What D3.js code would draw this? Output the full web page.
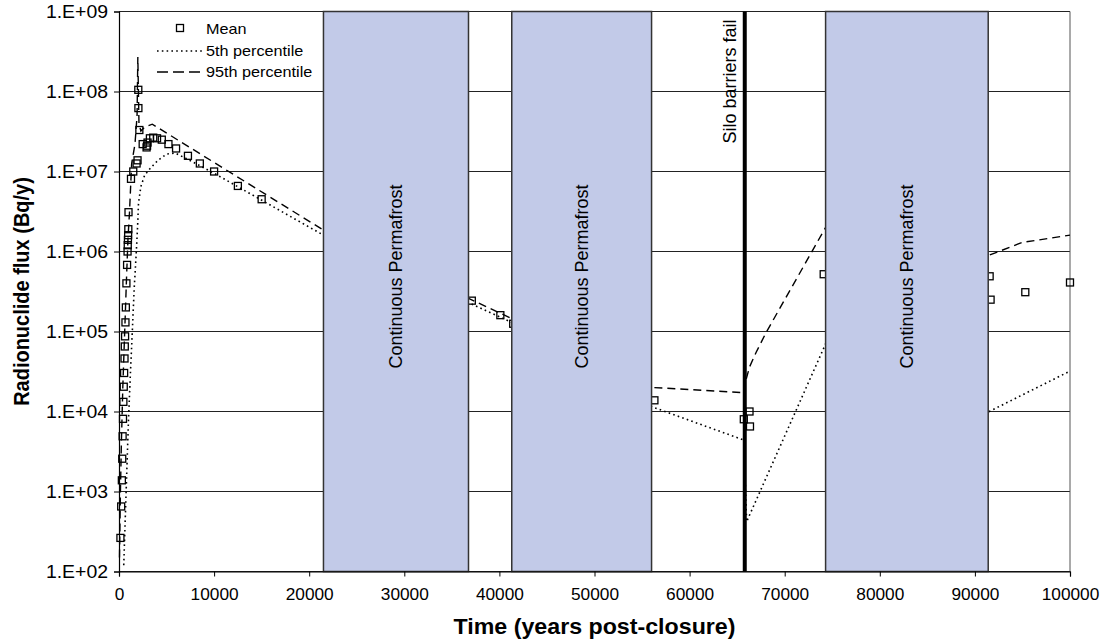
<!DOCTYPE html>
<html>
<head>
<meta charset="utf-8">
<script src="https://cdn.jsdelivr.net/npm/d3@7"></script>
<style>
  html, body { margin: 0; padding: 0; background: #fff; }
  svg { display: block; font-family: Arial, "Liberation Sans", sans-serif; }
</style>
</head>
<body>
<svg id="chart" width="1106" height="644"></svg>
<script>
// Mean radionuclide flux (Bq/y) against time after closure (years)
const meanTime = [150, 230, 300, 340, 380, 420, 460, 500, 540, 580, 610, 640, 680, 720, 780, 850,
  900, 920, 940, 960, 980, 1000, 1260, 1500, 1850, 1950, 2030, 2040, 2140, 2490, 2900, 2950, 3000,
  3250, 3600, 4000, 4500, 5200, 6000, 7250, 8500, 10000, 12500, 15000,
  37100, 40100, 41450, 56300, 65700, 66300, 66350, 74100, 91550, 91650, 95300, 100000];
const meanFlux = [263, 650, 1380, 2570, 4900, 8100, 13200, 20400, 30300, 46000, 65000, 87000, 1.3e5, 2.0e5, 4.0e5, 6.8e5,
  1.0e6, 1.2e6, 1.4e6, 1.6e6, 1.9e6, 3.1e6, 8.1e6, 1.0e7, 1.26e7, 1.38e7, 1.05e8, 6.2e7, 3.3e7, 2.2e7, 2.0e7, 2.1e7, 2.3e7,
  2.6e7, 2.65e7, 2.6e7, 2.5e7, 2.2e7, 1.94e7, 1.57e7, 1.26e7, 1.0e7, 6.6e6, 4.5e6,
  2.43e5, 1.6e5, 1.25e5, 1.38e4, 8.0e3, 1.0e4, 6.5e3, 5.2e5, 4.9e5, 2.5e5, 3.1e5, 4.1e5];

// 5th percentile
const p5Time = [500, 750, 1000, 1200, 1400, 1600, 1800, 1950, 2050, 2300, 2700, 3300, 4100, 5000, 5900, 7100,
  10000, 21500, 36750, 41300, 56000, 65700, 66000, 74300, 91500, 100000];
const p5Flux = [120, 1.0e3, 8.0e3, 3.0e4, 1.0e5, 3.5e5, 9.0e5, 2.0e6, 4.0e6, 6.5e6, 9.0e6, 1.1e7, 1.38e7, 1.65e7, 1.7e7, 1.45e7,
  9.5e6, 1.6e6, 2.3e5, 1.3e5, 1.15e4, 4.4e3, 420, 7.0e4, 1.0e4, 3.2e4];

// 95th percentile
const p95Time = [50, 150, 250, 400, 600, 800, 950, 1100, 1330, 1680, 1900, 1980, 2100, 2300, 2700, 3500,
  21500, 36750, 41300, 56000, 65750, 65900, 66300, 67000, 68000, 74300, 91500, 95000, 100000];
const p95Flux = [150, 1.0e3, 4.0e3, 2.0e4, 1.0e5, 5.0e5, 1.5e6, 3.0e6, 1.26e7, 2.2e7, 5.0e7, 2.7e8, 4.0e7, 3.2e7, 3.6e7, 3.9e7,
  1.85e6, 2.6e5, 1.45e5, 2.0e4, 1.72e4, 2.4e4, 3.6e4, 5.5e4, 9.5e4, 2.0e6, 9.0e5, 1.3e6, 1.6e6];

// Periods of continuous permafrost and the silo barrier failure
const permafrostStart = [21500, 41300, 74300];
const permafrostEnd = [36750, 56000, 91400];
const permafrostLabel = "Continuous Permafrost";
const siloFailTime = 65800;
const siloFailLabel = "Silo barriers fail";

const xTicks = [0, 10000, 20000, 30000, 40000, 50000, 60000, 70000, 80000, 90000, 100000];
const yTicks = [1e2, 1e3, 1e4, 1e5, 1e6, 1e7, 1e8, 1e9];
const yTickLabels = ["1.E+02", "1.E+03", "1.E+04", "1.E+05", "1.E+06", "1.E+07", "1.E+08", "1.E+09"];
const xTitle = "Time (years post-closure)";
const yTitle = "Radionuclide flux (Bq/y)";
const legendLabels = ["Mean", "5th percentile", "95th percentile"];

(function draw() {
  const svg = d3.select("#chart");
  const pl = 119, pr = 1070, pt = 11.5, pb = 571.5;
  const sx = 1.08; // horizontal text stretch

  const x = d3.scaleLinear().domain([0, 100000]).range([pl, pr]);
  const y = d3.scaleLog().domain([1e2, 1e9]).range([pb, pt]);

  // horizontal gridlines
  svg.append("g").selectAll("line").data(yTicks).join("line")
    .attr("x1", pl).attr("x2", pr)
    .attr("y1", d => y(d)).attr("y2", d => y(d))
    .attr("stroke", "#222").attr("stroke-width", 1);

  // right border of the plot area
  svg.append("line").attr("x1", pr).attr("x2", pr).attr("y1", pt).attr("y2", pb)
    .attr("stroke", "#555").attr("stroke-width", 1);

  const line = d3.line().x(d => x(d[0])).y(d => y(d[1]));
  const p5 = p5Time.map((t, i) => [t, p5Flux[i]]);
  const p95 = p95Time.map((t, i) => [t, p95Flux[i]]);

  svg.append("path").datum(p5).attr("d", line)
    .attr("fill", "none").attr("stroke", "#000").attr("stroke-width", 1.6)
    .attr("stroke-dasharray", "1.6,3.2");
  svg.append("path").datum(p95).attr("d", line)
    .attr("fill", "none").attr("stroke", "#000").attr("stroke-width", 1.4)
    .attr("stroke-dasharray", "8,5");

  // mean markers
  const ms = 7;
  svg.append("g").selectAll("rect").data(meanTime.map((t, i) => [t, meanFlux[i]])).join("rect")
    .attr("x", d => x(d[0]) - ms / 2).attr("y", d => y(d[1]) - ms / 2)
    .attr("width", ms).attr("height", ms)
    .attr("fill", "none").attr("stroke", "#000").attr("stroke-width", 1.3);

  // permafrost bands drawn over the data
  const bands = svg.append("g").selectAll("g")
    .data(permafrostStart.map((s, i) => [s, permafrostEnd[i]])).join("g");
  bands.append("rect")
    .attr("x", d => x(d[0])).attr("y", pt)
    .attr("width", d => x(d[1]) - x(d[0])).attr("height", pb - pt)
    .attr("fill", "#c2cae8").attr("stroke", "#333").attr("stroke-width", 1.5);
  bands.append("text")
    .attr("transform", d => `translate(${(x(d[0]) + x(d[1])) / 2 + 6},${(pt + pb) / 2 - 15}) rotate(-90)`)
    .attr("text-anchor", "middle").attr("font-size", 18).attr("fill", "#000")
    .text(permafrostLabel);

  // silo barrier failure
  svg.append("line").attr("x1", x(siloFailTime)).attr("x2", x(siloFailTime))
    .attr("y1", pt).attr("y2", pb).attr("stroke", "#000").attr("stroke-width", 4);
  svg.append("text")
    .attr("transform", `translate(${x(siloFailTime) - 9},${pt + 8}) rotate(-90)`)
    .attr("text-anchor", "end").attr("font-size", 18).text(siloFailLabel);

  // axes
  const xAxis = svg.append("g").attr("transform", `translate(0,${pb})`)
    .call(d3.axisBottom(x).tickValues(xTicks).tickFormat(d3.format("d")).tickSizeOuter(0).tickSize(5));
  const yAxis = svg.append("g").attr("transform", `translate(${pl},0)`)
    .call(d3.axisLeft(y).tickValues(yTicks).tickFormat((d, i) => yTickLabels[i]).tickSizeOuter(0).tickSize(5));
  [xAxis, yAxis].forEach(g => {
    g.select(".domain").attr("stroke", "#000").attr("stroke-width", 1.2);
    g.selectAll(".tick line").attr("stroke", "#000");
    g.selectAll("text").attr("font-family", "Arial, 'Liberation Sans', sans-serif").attr("fill", "#000");
  });
  xAxis.selectAll("text").attr("font-size", 16).attr("y", 29).attr("dy", 0)
    .attr("transform", `scale(${sx},1)`);
  yAxis.selectAll("text").attr("font-size", 18).attr("x", -11 / sx).attr("dy", "0.34em")
    .attr("transform", `scale(${sx},1)`);

  // axis titles
  svg.append("text").attr("transform", `translate(${(pl + pr) / 2},634) scale(${sx},1)`)
    .attr("text-anchor", "middle").attr("font-size", 21.5).attr("font-weight", "bold").text(xTitle);
  svg.append("text").attr("transform", `translate(29,${(pt + pb) / 2}) rotate(-90) scale(1,${sx})`)
    .attr("text-anchor", "middle").attr("font-size", 20).attr("font-weight", "bold").text(yTitle);

  // legend
  const lg = svg.append("g");
  lg.append("rect").attr("x", 180 - 3.5).attr("y", 28 - 3.5).attr("width", 7).attr("height", 7)
    .attr("fill", "none").attr("stroke", "#000").attr("stroke-width", 1.3);
  lg.append("line").attr("x1", 157).attr("x2", 203).attr("y1", 51).attr("y2", 51)
    .attr("stroke", "#000").attr("stroke-width", 1.6).attr("stroke-dasharray", "1.6,3.2");
  lg.append("line").attr("x1", 157).attr("x2", 203).attr("y1", 72).attr("y2", 72)
    .attr("stroke", "#000").attr("stroke-width", 1.4).attr("stroke-dasharray", "11,5");
  lg.selectAll("text").data(legendLabels).join("text")
    .attr("transform", (d, i) => `translate(206,${34 + i * 21.5}) scale(${sx},1)`)
    .attr("font-size", 15).text(d => d);
})();
</script>
</body>
</html>
